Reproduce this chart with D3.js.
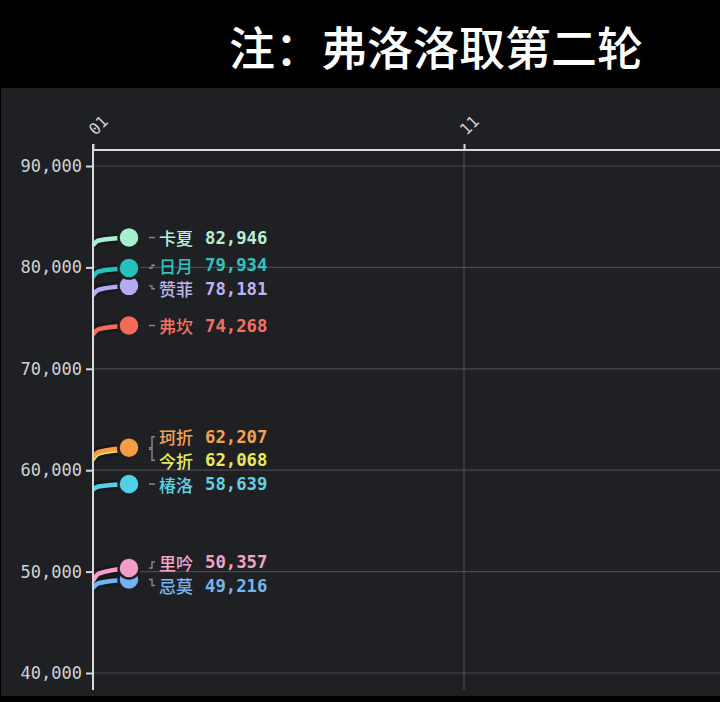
<!DOCTYPE html>
<html>
<head>
<meta charset="utf-8">
<script src="https://cdn.jsdelivr.net/npm/d3@7"></script>
<style>
  body { margin: 0; background: #000; }
</style>
</head>
<body>
<div id="chart"></div>
<script>
// series names, colours and values
const names   = ['卡夏', '日月', '赞菲', '弗坎', '珂折', '今折', '椿洛', '里吟', '忌莫'];
const colors  = ['#a6efd0', '#27c1bd', '#b4abf3', '#f66b57', '#f79b46', '#ece84f', '#52d0e6', '#f49dca', '#6fb3f3'];
const textCol = ['#b8eed8', '#30c4bf', '#bcb3ef', '#f2725f', '#f4a156', '#e9e95b', '#60d0e2', '#f3a3c9', '#76b5ee'];
// values at day 01, a bit later, and now
const times    = [1, 1.15, 1.97];
const valStart = [82200, 79100, 77300, 73400, 61300, 61100, 58100, 49100, 48400];
const valMid   = [82650, 79600, 77800, 73900, 61800, 61650, 58400, 49800, 48850];
const valNow   = [82946, 79934, 78181, 74268, 62207, 62068, 58639, 50357, 49216];

const xTicks = [1, 11];
const yTicks = [40000, 50000, 60000, 70000, 80000, 90000];
const title  = '注：弗洛洛取第二轮';

const width = 720, height = 702;
const panel = {top: 88, bottom: 696};
const plot  = {left: 93, right: 720, top: 150, bottom: 690};

const svg = d3.select("#chart").append("svg")
    .attr("width", width)
    .attr("height", height);

svg.append("rect")
    .attr("width", width).attr("height", height)
    .attr("fill", "#000");
svg.append("rect")
    .attr("x", 1).attr("y", panel.top)
    .attr("width", width - 1).attr("height", panel.bottom - panel.top)
    .attr("fill", "#1f2024");

// title
svg.append("text")
    .attr("x", 436).attr("y", 45)
    .attr("text-anchor", "middle")
    .attr("dominant-baseline", "central")
    .attr("font-family", "'Noto Sans CJK SC', sans-serif")
    .attr("font-weight", 500)
    .attr("font-size", "46px")
    .attr("fill", "#fff")
    .text(title);

const x = d3.scaleLinear().domain([1, 11]).range([93, 464]);
const y = d3.scaleLinear().domain([40000, 90000]).range([673, 166]);

// grid
const grid = svg.append("g");
grid.selectAll(".hgrid").data(yTicks).join("line")
    .attr("x1", plot.left).attr("x2", plot.right)
    .attr("y1", d => y(d)).attr("y2", d => y(d))
    .attr("stroke", "#5a5b5f").attr("stroke-width", 1.2).attr("opacity", 0.7);
grid.selectAll(".vgrid").data(xTicks.slice(1)).join("line")
    .attr("x1", d => x(d)).attr("x2", d => x(d))
    .attr("y1", plot.top).attr("y2", plot.bottom)
    .attr("stroke", "#5a5b5f").attr("stroke-width", 1.2).attr("opacity", 0.7);

// y axis
const yAxis = d3.axisLeft(y)
    .tickValues(yTicks)
    .tickFormat(d3.format(","))
    .tickSize(7)
    .tickPadding(4);
const gy = svg.append("g")
    .attr("transform", "translate(" + plot.left + ",0)")
    .call(yAxis);
gy.select(".domain").remove();
gy.selectAll(".tick line").attr("stroke", "#d9d9d9").attr("stroke-width", 2);
gy.selectAll(".tick text")
    .attr("fill", "#d2d2d2")
    .attr("font-family", "'DejaVu Sans Mono', monospace")
    .attr("font-size", "17px");
svg.append("line")
    .attr("x1", plot.left).attr("x2", plot.left)
    .attr("y1", plot.top - 6).attr("y2", plot.bottom)
    .attr("stroke", "#d9d9d9").attr("stroke-width", 2);

// x axis on top
const xAxis = d3.axisTop(x)
    .tickValues(xTicks)
    .tickFormat(d => d3.format("02d")(d))
    .tickSize(6);
const gx = svg.append("g")
    .attr("transform", "translate(0," + plot.top + ")")
    .call(xAxis);
gx.select(".domain").remove();
gx.selectAll(".tick line").attr("stroke", "#d9d9d9").attr("stroke-width", 2);
gx.selectAll(".tick text")
    .attr("fill", "#d2d2d2")
    .attr("font-family", "'DejaVu Sans Mono', monospace")
    .attr("font-size", "16px")
    .attr("text-anchor", "start")
    .attr("transform", "translate(-2,-18) rotate(-45)")
    .attr("dy", "0.35em")
    .attr("y", 0);
svg.append("line")
    .attr("x1", plot.left).attr("x2", plot.right)
    .attr("y1", plot.top).attr("y2", plot.top)
    .attr("stroke", "#d9d9d9").attr("stroke-width", 2);

// series table
const series = names.map((n, i) => ({
    name: n,
    color: colors[i],
    tcolor: textCol[i],
    value: valNow[i],
    points: times.map((t, k) => [t, [valStart[i], valMid[i], valNow[i]][k]])
}));

svg.append("clipPath").attr("id", "clip")
  .append("rect")
    .attr("x", plot.left + 1).attr("y", plot.top)
    .attr("width", plot.right - plot.left).attr("height", plot.bottom - plot.top);

const line = d3.line()
    .x(d => x(d[0]))
    .y(d => y(d[1]))
    .curve(d3.curveMonotoneX);

const order = series.slice().sort((a, b) => a.value - b.value);

const trails = svg.append("g").attr("clip-path", "url(#clip)");
trails.selectAll(".shadow").data(order).join("path")
    .attr("d", d => line(d.points))
    .attr("fill", "none")
    .attr("stroke", "#141518")
    .attr("stroke-width", 10)
    .attr("opacity", 0.7);
trails.selectAll(".trail").data(order).join("path")
    .attr("d", d => line(d.points))
    .attr("fill", "none")
    .attr("stroke", d => d.color)
    .attr("stroke-width", 4.5)
    .attr("stroke-linecap", "round");

// dots, higher value drawn on top
const tNow = times[times.length - 1];
svg.append("g").selectAll("circle").data(order).join("circle")
    .attr("cx", x(tNow))
    .attr("cy", d => y(d.value))
    .attr("r", 10.5)
    .attr("fill", d => d.color)
    .attr("stroke", "#1f2024")
    .attr("stroke-width", 2.5);

// dodge labels so they do not overlap
const gap = 23.5;
const lab = series.slice().sort((a, b) => b.value - a.value);
lab.forEach(d => { d.dy = y(d.value); d.ly = d.dy; });
for (let it = 0; it < 200; it++) {
    for (let i = 1; i < lab.length; i++) {
        const over = gap - (lab[i].ly - lab[i - 1].ly);
        if (over > 0) {
            lab[i - 1].ly -= over / 2;
            lab[i].ly += over / 2;
        }
    }
}

const lx0 = 149, lxm = 152, lx1 = 155;
const labels = svg.append("g");
labels.selectAll("path").data(lab).join("path")
    .attr("d", d => "M" + lx0 + "," + d.dy + "H" + lxm + "V" + d.ly + "H" + lx1)
    .attr("fill", "none")
    .attr("stroke", "#8a8a8e")
    .attr("stroke-width", 1.4);

labels.selectAll(".name").data(lab).join("text")
    .attr("x", 159)
    .attr("y", d => d.ly)
    .attr("dominant-baseline", "central")
    .attr("font-family", "'Noto Sans CJK SC', sans-serif")
    .attr("font-weight", 500)
    .attr("font-size", "17px")
    .attr("fill", d => d.tcolor)
    .text(d => d.name);

labels.selectAll(".val").data(lab).join("text")
    .attr("x", 205)
    .attr("y", d => d.ly)
    .attr("dominant-baseline", "central")
    .attr("font-family", "'DejaVu Sans Mono', monospace")
    .attr("font-weight", "bold")
    .attr("font-size", "17.3px")
    .attr("fill", d => d.tcolor)
    .text(d => d3.format(",")(d.value));
</script>
</body>
</html>
